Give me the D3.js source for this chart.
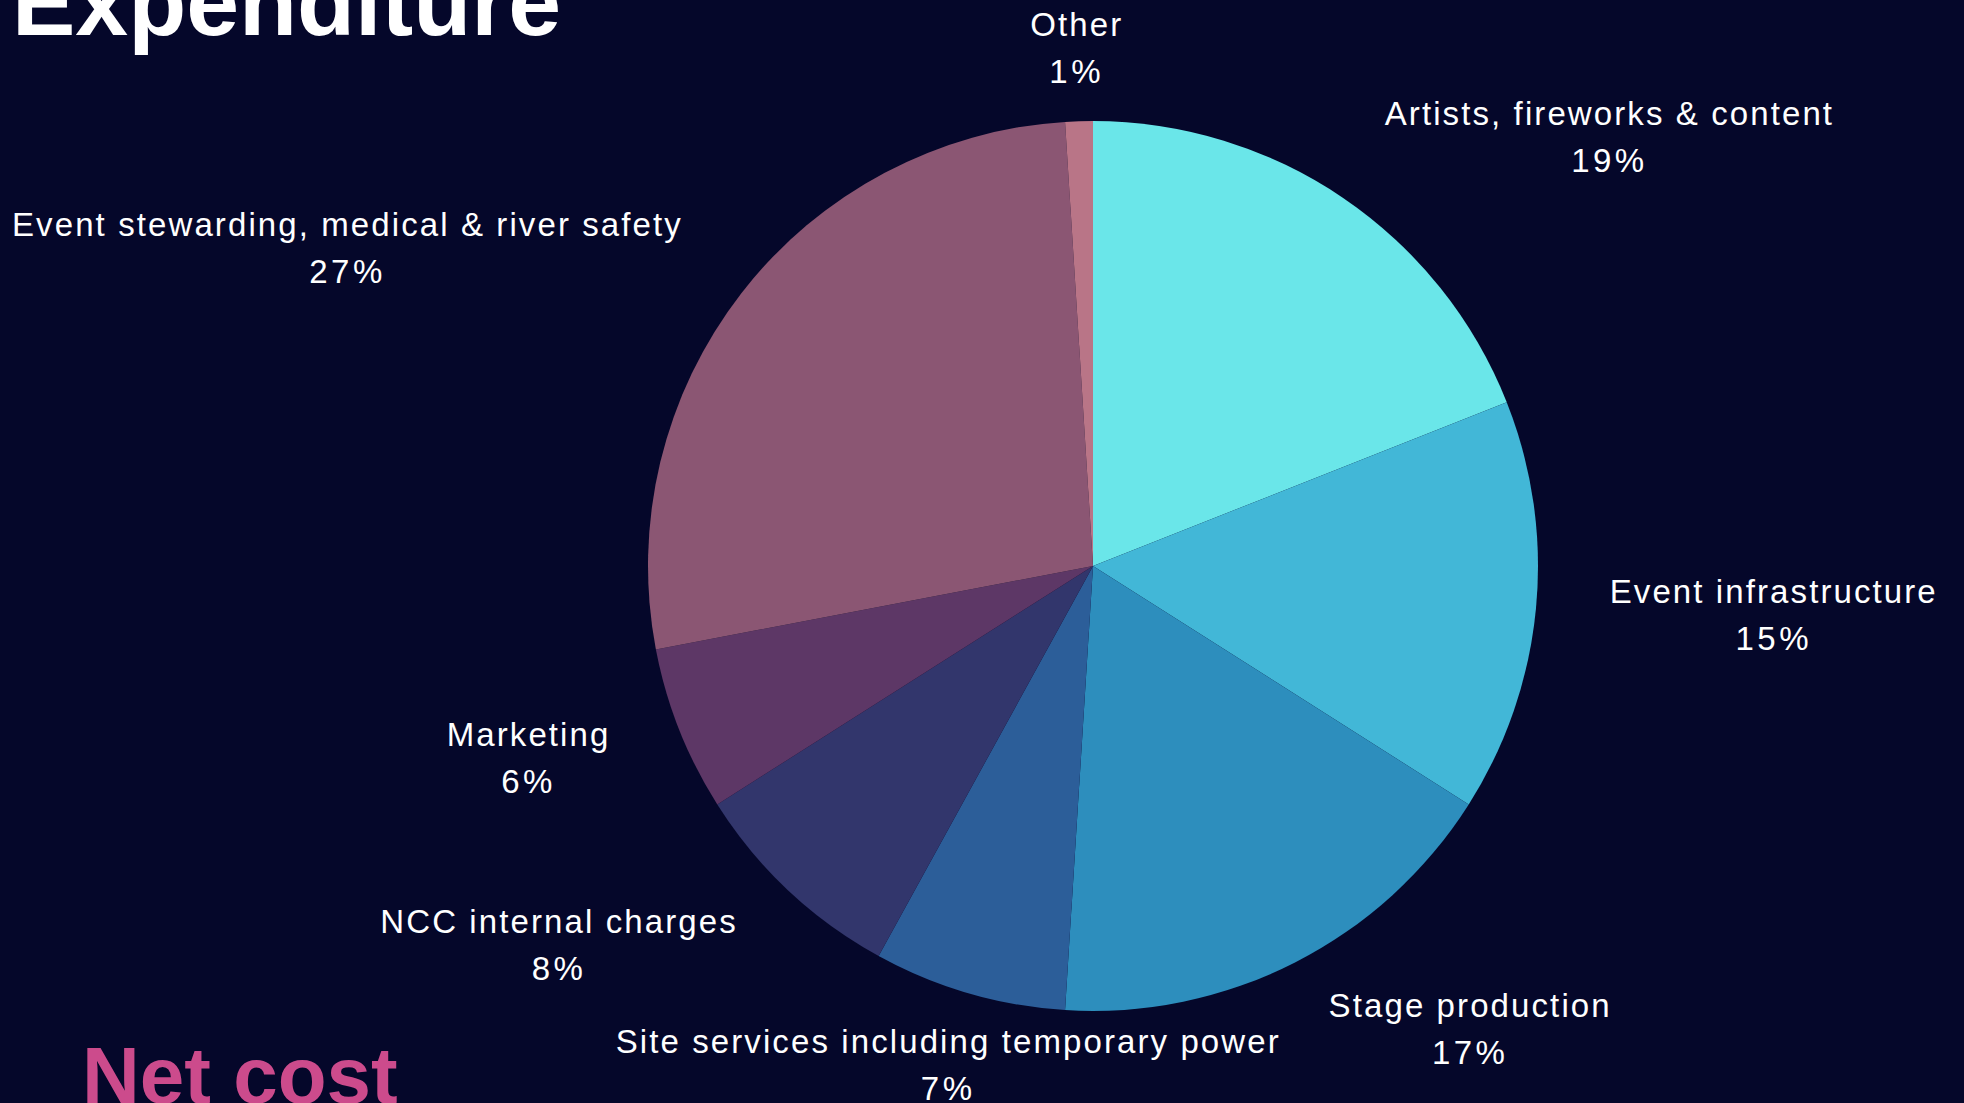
<!DOCTYPE html>
<html>
<head>
<meta charset="utf-8">
<script src="https://cdn.jsdelivr.net/npm/d3@7"></script>
<style>
  html, body { margin: 0; padding: 0; background: #05072a; overflow: hidden; }
  svg { display: block; }
</style>
</head>
<body>
<svg id="chart" width="1964" height="1103"></svg>
<script>
const categories = [
  "Artists, fireworks & content",
  "Event infrastructure",
  "Stage production",
  "Site services including temporary power",
  "NCC internal charges",
  "Marketing",
  "Event stewarding, medical & river safety",
  "Other"
];
const values = [19, 15, 17, 7, 8, 6, 27, 1];
const colors = ["#6ae6e9", "#42b7d7", "#2d8ebd", "#2c5e99", "#32366c", "#5d3766", "#8b5673", "#b97587"];
const titleText = "Expenditure";
const footerText = "Net cost";

const W = 1964, H = 1103;
const cx = 1093, cy = 566, R = 445, labelR = 519;
const fontFamily = "'Liberation Sans', Arial, sans-serif";

const svg = d3.select("#chart");
svg.append("rect").attr("width", W).attr("height", H).attr("fill", "#05072a");

const data = categories.map((c, i) => ({ name: c, value: values[i], color: colors[i] }));
const pie = d3.pie().value(d => d.value).sort(null);
const arcs = pie(data);
const arc = d3.arc().innerRadius(0).outerRadius(R);

const g = svg.append("g").attr("transform", `translate(${cx},${cy})`);
g.selectAll("path.slice")
  .data(arcs)
  .enter().append("path")
  .attr("class", "slice")
  .attr("d", arc)
  .attr("fill", d => d.data.color);

const total = d3.sum(values);
const fmt = v => Math.round(v / total * 100) + "%";

const labels = g.selectAll("g.label")
  .data(arcs)
  .enter().append("g")
  .attr("class", "label");

labels.each(function(d) {
  const a = (d.startAngle + d.endAngle) / 2;
  const ax = labelR * Math.sin(a);
  const ay = -labelR * Math.cos(a);
  const sel = d3.select(this);
  const t1 = sel.append("text").text(d.data.name).attr("letter-spacing", 2.1);
  const t2 = sel.append("text").text(fmt(d.value)).attr("letter-spacing", 3.5);
  [t1, t2].forEach(t => t
    .attr("fill", "#ffffff")
    .attr("font-family", fontFamily)
    .attr("font-size", 33)
    .attr("text-anchor", "middle"));
  const w = Math.max(t1.node().getComputedTextLength(), t2.node().getComputedTextLength());
  const s = Math.sin(a);
  let centerX;
  if (Math.abs(s) < 0.35) centerX = ax;
  else if (s > 0) centerX = ax + w / 2;
  else centerX = ax - w / 2;
  t1.attr("x", centerX).attr("y", ay - 11.5);
  t2.attr("x", centerX).attr("y", ay + 35.5);
});

svg.append("text")
  .attr("x", 12).attr("y", 35)
  .attr("fill", "#ffffff")
  .attr("font-family", fontFamily)
  .attr("font-weight", "bold")
  .attr("font-size", 95)
  .text(titleText);

svg.append("text")
  .attr("x", 82).attr("y", 1103)
  .attr("fill", "#cc4b8c")
  .attr("font-family", fontFamily)
  .attr("font-weight", "bold")
  .attr("font-size", 80)
  .text(footerText);
</script>
</body>
</html>
